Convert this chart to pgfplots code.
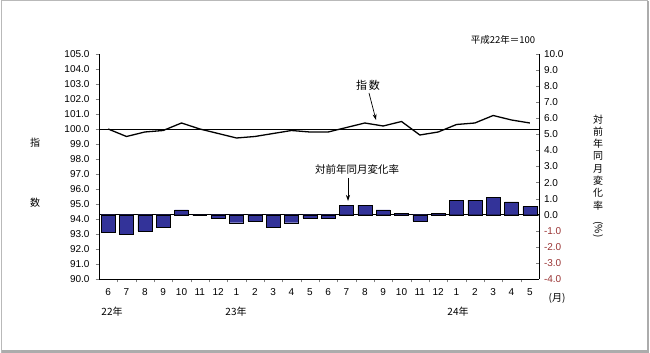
\documentclass[border=0pt]{standalone}
\usepackage{pgfplots}
\pgfplotsset{compat=1.18}
\usepackage{pgfplotstable}
\usepackage{graphicx}
\usepackage{fontspec}
\setmainfont{Liberation Sans}
\newfontfamily\jp{Noto Sans CJK JP}
\usetikzlibrary{arrows.meta}
\definecolor{barblue}{HTML}{333399}
\definecolor{negred}{HTML}{993333}

\pgfplotstableread{
x idx chg
0 100.0 -1.1
1 99.5 -1.2
2 99.8 -1.0
3 99.9 -0.8
4 100.4 0.3
5 100.0 0.0
6 99.7 -0.2
7 99.4 -0.5
8 99.5 -0.4
9 99.7 -0.8
10 99.9 -0.5
11 99.8 -0.2
12 99.8 -0.2
13 100.1 0.6
14 100.4 0.6
15 100.2 0.3
16 100.5 0.1
17 99.6 -0.4
18 99.8 0.1
19 100.3 0.9
20 100.4 0.9
21 100.9 1.1
22 100.6 0.8
23 100.4 0.5
}\data

\begin{document}
\begin{tikzpicture}[x=1pt,y=1pt]
\useasboundingbox (0,0) rectangle (650,353);
\draw[gray!55, line width=1pt] (1.5,0.5) rectangle (647.5,352.5);
\draw[gray!65, line width=2.5pt] (648,352) -- (648,1.5) -- (1.5,1.5);

\begin{axis}[
  at={(99pt,74pt)}, anchor=south west, scale only axis,
  width=440pt, height=225pt,
  xmin=-0.5, xmax=23.5, ymin=90, ymax=105,
  axis x line*=bottom, axis y line*=left,
  ytick={90,91,...,105},
  ytick align=outside,
  major tick length=3.5pt,
  yticklabel style={font=\fontsize{10}{12}\selectfont, xshift=-2.5pt},
  /pgf/number format/.cd, fixed, fixed zerofill, precision=1, assume math mode=true,
  /pgfplots/.cd,
  xtick={0,...,23},
  xticklabels={6,7,8,9,10,11,12,1,2,3,4,5,6,7,8,9,10,11,12,1,2,3,4,5},
  xtick style={draw=none},
  xticklabel style={font=\fontsize{10}{12}\selectfont, yshift=-6pt},
  clip=false,
]
\draw[black, line width=0.6pt] (axis cs:-0.5,100) -- (axis cs:23.5,100);
\addplot[black, line width=1.3pt, mark=none] table[x=x, y=idx] {\data};
\end{axis}

\begin{axis}[
  at={(99pt,74pt)}, anchor=south west, scale only axis,
  width=440pt, height=225pt,
  xmin=-0.5, xmax=23.5, ymin=-4, ymax=10,
  axis x line*=bottom, axis y line*=right,
  xtick={0.5,1.5,...,22.5}, xticklabels={},
  xtick align=outside, ytick align=inside,
  major tick length=3.5pt,
  ytick={-4,-3,...,10},
  yticklabels={\textcolor{negred}{-4.0},\textcolor{negred}{-3.0},\textcolor{negred}{-2.0},\textcolor{negred}{-1.0},0.0,1.0,2.0,3.0,4.0,5.0,6.0,7.0,8.0,9.0,10.0},
  yticklabel style={font=\fontsize{10}{12}\selectfont, xshift=1.5pt},
  clip=false,
]
\draw[black, line width=0.6pt] (axis cs:-0.5,0) -- (axis cs:23.5,0);
\addplot[ybar, bar width=0.76, fill=barblue, draw=black, line width=0.4pt] table[x=x, y=chg] {\data};
\end{axis}

% labels
\node[font=\jp\fontsize{10}{12}\selectfont] at (35,210) {指};
\node[font=\jp\fontsize{10}{12}\selectfont] at (35,150) {数};
\node[font=\jp\fontsize{10}{12.3}\selectfont, align=center, inner sep=0pt] at (598,177)
  {対\\前\\年\\同\\月\\変\\化\\率\\\rotatebox{-90}{(\%)}};
\node[font=\jp\fontsize{9.5}{12}\selectfont] at (503,313) {平成22年＝100};
\node[font=\jp\fontsize{10}{12}\selectfont] at (112,41) {22年};
\node[font=\jp\fontsize{10}{12}\selectfont] at (236,41) {23年};
\node[font=\jp\fontsize{10}{12}\selectfont] at (458,41) {24年};
\node[font=\jp\fontsize{10}{12}\selectfont] at (557,55) {(月)};
\node[font=\jp\fontsize{11}{12}\selectfont] at (368,268) {指\,数};
\draw[-{Stealth[length=6pt,width=4pt]}, line width=0.7pt] (369,260) -- (376,233);
\node[font=\jp\fontsize{10.5}{12}\selectfont] at (357,183) {対前年同月変化率};
\draw[-{Stealth[length=6pt,width=4pt]}, line width=0.7pt] (348,175) -- (348,152);
\end{tikzpicture}
\end{document}
